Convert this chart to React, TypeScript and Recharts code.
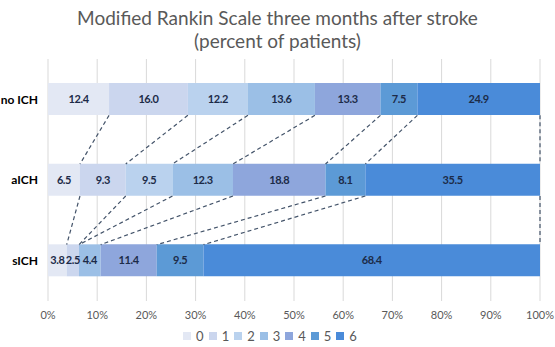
import {
  BarChart,
  Bar,
  XAxis,
  YAxis,
  CartesianGrid,
  Legend,
  LabelList,
  ReferenceLine,
} from "recharts";

// modified Rankin Scale distribution per group (percent of patients)
const groups = ["no ICH", "aICH", "sICH"];
const score0 = [12.4, 6.5, 3.8];
const score1 = [16.0, 9.3, 2.5];
const score2 = [12.2, 9.5, 0];
const score3 = [13.6, 12.3, 4.4];
const score4 = [13.3, 18.8, 11.4];
const score5 = [7.5, 8.1, 9.5];
const score6 = [24.9, 35.5, 68.4];
const scoreNames = ["0", "1", "2", "3", "4", "5", "6"];
const xTicks = [0, 10, 20, 30, 40, 50, 60, 70, 80, 90, 100];

const colors = ["#e3e8f4", "#cbd6ee", "#bad2ee", "#9bbfe6", "#8ea6dc", "#5c9ad6", "#4a8bd9"];

const series = [score0, score1, score2, score3, score4, score5, score6];

// rows sit at 0.5, 1.5, 2.5 on a numeric y axis so the series lines can share its scale
const data = groups.map((g, i) => {
  const row: Record<string, string | number> = { group: g, pos: i + 0.5 };
  series.forEach((s, j) => {
    row["s" + j] = s[i];
  });
  return row;
});

// cumulative share (0..1) at the right edge of each score, per group
const cumulative = groups.map((_, i) => {
  const total = series.reduce((acc, s) => acc + s[i], 0);
  let run = 0;
  return series.map((s) => {
    run += s[i];
    return run / total;
  });
});

const WIDTH = 555;
const HEIGHT = 347;
const MARGIN = { top: 59, right: 15, bottom: 0, left: 0 };
const X_AXIS_H = 24;
const LEGEND_H = 22;
const BAR_SIZE = 32;
const plotHeight = HEIGHT - MARGIN.top - MARGIN.bottom - X_AXIS_H - LEGEND_H;
// half a bar, in y-axis units (one unit = one row)
const halfBar = BAR_SIZE / 2 / (plotHeight / groups.length);

const fmt = (v: any) => (v ? Number(v).toFixed(1) : "");

const LegendContent = ({ payload }: any) => (
  <div
    style={{
      display: "flex",
      justifyContent: "center",
      gap: 5,
      fontSize: 13,
      color: "#595959",
      fontFamily: "Lato",
      paddingTop: 3,
    }}
  >
    {(payload || []).map((p: any) => (
      <span key={p.value} style={{ display: "inline-flex", alignItems: "center" }}>
        <span
          style={{ width: 8, height: 8, background: p.color, marginRight: 5, display: "inline-block" }}
        />
        {p.value}
      </span>
    ))}
  </div>
);

const App = () => {
  return (
    <div style={{ position: "absolute", left: 0, top: 0, width: WIDTH, height: HEIGHT, background: "#fff" }}>
      <div
        style={{
          position: "absolute",
          top: 6,
          left: 0,
          width: WIDTH,
          textAlign: "center",
          fontFamily: "Lato",
          fontSize: 19,
          lineHeight: "23px",
          color: "#595959",
        }}
      >
        Modified Rankin Scale three months after stroke
        <br />
        (percent of patients)
      </div>
      <BarChart
        width={WIDTH}
        height={HEIGHT}
        data={data}
        layout="vertical"
        stackOffset="expand"
        barSize={BAR_SIZE}
        margin={MARGIN}
      >
        <CartesianGrid horizontal={false} stroke="#d9d9d9" />
        <XAxis
          type="number"
          domain={[0, 1]}
          ticks={xTicks.map((t) => t / 100)}
          tickFormatter={(v) => `${Math.round(v * 100)}%`}
          axisLine={false}
          tickLine={false}
          tickMargin={4}
          height={X_AXIS_H}
          tick={{ fontSize: 11, fill: "#595959", fontFamily: "Lato" }}
        />
        <YAxis
          type="number"
          dataKey="pos"
          domain={[0, groups.length]}
          ticks={groups.map((_, i) => i + 0.5)}
          tickFormatter={(v) => groups[Math.round(v - 0.5)] ?? ""}
          allowDataOverflow
          width={48}
          axisLine={false}
          tickLine={false}
          tickMargin={4}
          tick={{ fontSize: 12, fill: "#000", fontWeight: 700, fontFamily: "Lato" }}
        />
        {scoreNames.map((name, j) => (
          <Bar
            key={name}
            dataKey={"s" + j}
            name={name}
            stackId="mrs"
            fill={colors[j]}
            isAnimationActive={false}
          >
            <LabelList
              dataKey={"s" + j}
              position="center"
              formatter={fmt}
              style={{
                fontSize: 11,
                fontWeight: 700,
                fill: "#1c2b48",
                fontFamily: "Lato",
                letterSpacing: "-0.4px",
              }}
            />
          </Bar>
        ))}
        {groups.slice(0, -1).map((_, k) =>
          scoreNames.map((name, j) => (
            <ReferenceLine
              key={`sl-${k}-${name}`}
              segment={[
                { x: cumulative[k][j], y: k + 0.5 + halfBar },
                { x: cumulative[k + 1][j], y: k + 1.5 - halfBar },
              ]}
              stroke="#44546a"
              strokeWidth={1.2}
              strokeDasharray="4 3"
              ifOverflow="visible"
            />
          ))
        )}
        <Legend verticalAlign="bottom" height={LEGEND_H} content={<LegendContent />} />
      </BarChart>
    </div>
  );
};

export default App;
